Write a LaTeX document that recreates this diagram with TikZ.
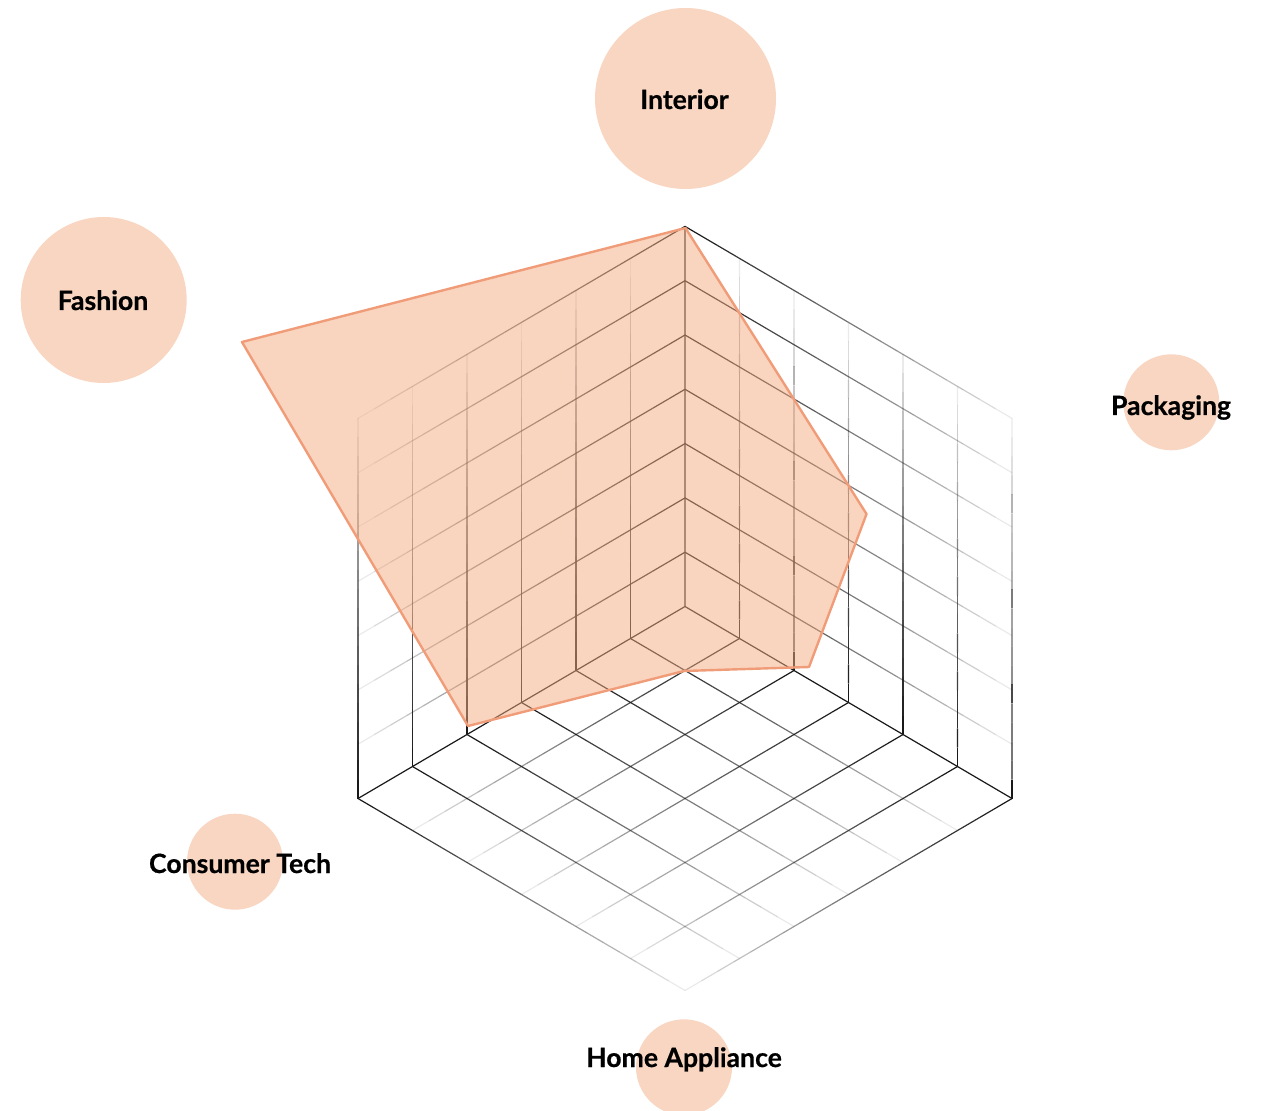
\documentclass[tikz,border=0pt]{standalone}
\usepackage{fontspec}
\setmainfont{Lato}[BoldFeatures={FakeBold=0.6}]
\usetikzlibrary{calc}

\begin{document}
\begin{tikzpicture}[x=0.5pt,y=-0.5pt]

\definecolor{peach}{RGB}{249,214,193}
\definecolor{salmon}{RGB}{243,171,129}
\definecolor{rim}{RGB}{241,156,120}
\tikzstyle{bubble} = [circle, fill=peach, draw=none, inner sep=0pt];
\tikzstyle{tag} = [font=\bfseries\fontsize{13.3}{16}\selectfont, anchor=base, inner sep=0pt];
\tikzstyle{grid} = [line width=0.6pt, draw=black!90];
\useasboundingbox (0,0) rectangle (1278,1111);

\def\fadeline#1#2{
  \foreach \s [evaluate=\s as \op using {(1-\s/20)^0.8}] in {0,...,19}
    \draw[grid, draw opacity=\op] ($(#1)!{\s/20}!(#2)$) -- ($(#1)!{(\s+1)/20}!(#2)$);
}

\begin{scope}[shift={(685,606.5)}, x={(-27.25pt,-16pt)}, y={(0pt,27.15pt)}, z={(27.25pt,-16pt)}]
  % left wall
  \foreach \i in {1,...,6} \fadeline{\i,0,0}{\i,7,0};
  \foreach \j in {1,...,7} \fadeline{0,\j,0}{6,\j,0};
  % right wall
  \foreach \k in {1,...,6} \fadeline{0,0,\k}{0,7,\k};
  \foreach \j in {1,...,7} \fadeline{0,\j,0}{0,\j,6};
  % floor
  \foreach \i in {1,...,6} \fadeline{\i,0,0}{\i,0,6};
  \foreach \k in {1,...,6} \fadeline{0,0,\k}{6,0,\k};
  \draw[grid] (0,7,0) -- (0,0,0) -- (6,0,0) (0,0,0) -- (0,0,6);
\end{scope}

\coordinate (pInt) at (685.5,228);
\coordinate (pPack) at (866.5,514);
\coordinate (pHome) at (809,667);
\coordinate (pMid) at (684,671);
\coordinate (pCons) at (468,726);
\coordinate (pFash) at (242,342);
\draw[rim, line width=1.2pt, line join=round, fill=salmon, fill opacity=0.5]
  (pInt) -- (pPack) -- (pHome) -- (pMid) -- (pCons) -- (pFash) -- cycle;

\node[bubble, minimum size=90.5pt] (interior) at (685.5,98.5) {};
\node[bubble, minimum size=83pt] (fashion) at (103.7,300) {};
\node[bubble, minimum size=48pt] (packaging) at (1171.3,402.3) {};
\node[bubble, minimum size=48pt] (consumer) at (235,861.7) {};
\node[bubble, minimum size=48pt] (home) at (684,1067.3) {};

\node[tag] (tInterior) at (684.5,109) {Interior};
\node[tag] (tFashion) at (103,310) {Fashion};
\node[tag] (tPackaging) at (1171,415) {Packaging};
\node[tag] (tConsumer) at (240,873) {Consumer Tech};
\node[tag] (tHome) at (684,1067) {Home Appliance};

\end{tikzpicture}
\end{document}
